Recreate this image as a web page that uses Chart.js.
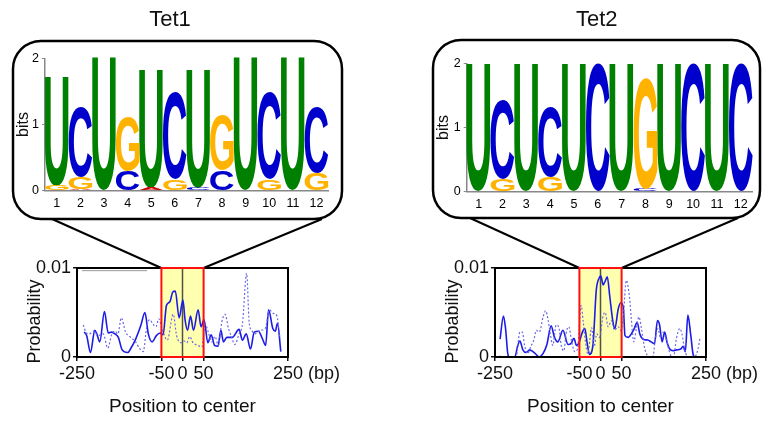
<!DOCTYPE html>
<html>
<head>
<meta charset="utf-8">
<script src="https://cdn.jsdelivr.net/npm/chart.js@4.4.1/dist/chart.umd.min.js"></script>
<style>
  html, body { margin: 0; padding: 0; background: #fff; }
  #fig { position: relative; width: 774px; height: 423px; overflow: hidden; background: #fff; }
  #fig canvas { position: absolute; }
</style>
</head>
<body>
<div id="fig">
  <canvas id="logo1" width="390" height="230" style="left:0;top:0"></canvas>
  <canvas id="logo2" width="384" height="230" style="left:390px;top:0"></canvas>
  <canvas id="prob1" width="387" height="208" style="left:0;top:215px"></canvas>
  <canvas id="prob2" width="356" height="208" style="left:418px;top:215px"></canvas>
</div>
<script>
// motif logos: information content (bits) per letter and position
const motifPositions = ['1', '2', '3', '4', '5', '6', '7', '8', '9', '10', '11', '12'];
const letterColors = { U: '#008000', C: '#0000cc', G: '#ffb300', A: '#cc0000' };

const tet1U = [1.65, 0, 2.0, 0, 1.79, 0, 1.79, 0, 2.0, 0, 2.0, 0];
const tet1C = [0, 1.05, 0, 0.30, 0, 1.31, 0.04, 0.31, 0, 1.31, 0, 0.99];
const tet1G = [0.07, 0.18, 0, 0.82, 0, 0.17, 0, 0.84, 0, 0.17, 0, 0.27];
const tet1A = [0.01, 0.025, 0, 0, 0.04, 0, 0, 0, 0, 0, 0, 0];

const tet2U = [2.0, 0, 2.0, 0, 2.0, 0, 2.0, 0, 2.0, 0, 2.0, 0];
const tet2C = [0, 1.22, 0, 1.09, 0, 2.0, 0, 0.05, 0, 2.0, 0, 2.0];
const tet2G = [0, 0.19, 0, 0.23, 0, 0, 0, 1.73, 0, 0, 0, 0];
const tet2A = [0, 0, 0, 0, 0, 0, 0, 0, 0, 0, 0, 0];

// motif occurrence probability vs position to center, [bp, probability]
const posTicks = [-250, -50, 0, 50, 250];
const posTickLabels = ['-250', '-50', '0', '50', '250'];
const probTicks = [0, 0.01];
const probTickLabels = ['0', '0.01'];
const centerWindow = [-50, 50];

const tet1Signal = [[-233,0.0028],[-227,0.0024],[-218,0.0005],[-208,0.0030],[-203,0.0026],[-196,0.0017],[-185,0.0051],
  [-176,0.0027],[-168,0.0028],[-160,0.0026],[-152,0.0022],[-143,0.0008],[-130,0.0005],[-121,0.0011],[-112,0.0019],
  [-99,0.0035],[-89,0.0050],[-81,0.0026],[-72,0.0017],[-62,0.0024],[-53,0.0027],[-46,0.0025],[-38,0.0058],[-30,0.0062],
  [-23,0.0073],[-17,0.0074],[-8,0.0044],[1,0.0064],[6,0.0042],[12,0.0030],[19,0.0046],[26,0.0030],[37,0.0053],
  [44,0.0034],[51,0.0042],[60,0.0016],[68,0.0025],[76,0.0013],[84,0.0012],[91,0.0030],[97,0.0017],[105,0.0022],
  [118,0.0022],[134,0.0031],[142,0.0019],[151,0.0026],[161,0.0009],[170,0.0028],[180,0.0029],[189,0.0021],
  [197,0.0013],[204,0.0053],[214,0.0032],[220,0.0029],[225,0.0038],[233,0.0006]];
const tet1Control = [[-235,0.0036],[-228,0.0027],[-221,0.0026],[-211,0.0029],[-200,0.0024],[-188,0.0026],[-177,0.0010],
  [-168,0.0025],[-160,0.0029],[-153,0.0026],[-145,0.0044],[-135,0.0028],[-125,0.0023],[-111,0.0017],[-101,0.0009],
  [-93,0.0006],[-85,0.0033],[-78,0.0042],[-70,0.0037],[-63,0.0034],[-56,0.0043],[-48,0.0031],[-36,0.0019],[-22,0.0048],
  [-14,0.0024],[-4,0.0016],[4,0.0018],[10,0.0016],[17,0.0023],[25,0.0016],[37,0.0013],[46,0.0011],[53,0.0038],
  [61,0.0028],[69,0.0017],[77,0.0023],[85,0.0013],[93,0.0039],[101,0.0048],[109,0.0032],[116,0.0023],[124,0.0014],
  [134,0.0026],[142,0.0037],[152,0.0094],[158,0.0039],[165,0.0029],[172,0.0026],[184,0.0030],[196,0.0032],
  [206,0.0053],[215,0.0049],[223,0.0047],[231,0.0021]];
const tet1Rule = [[-238,0.0097],[-84,0.0097]];

const tet2Signal = [[-238,0.0020],[-230,0.0046],[-225,0.0032],[-219,0.0002],[-214,0],[-203,0],[-196,0.0013],[-191,0.0018],
  [-184,0.0008],[-176,0.0005],[-168,0.0008],[-155,0.0004],[-145,0],[-136,0.0004],[-127,0.0014],[-117,0.0035],
  [-109,0.0022],[-101,0.0017],[-89,0.0030],[-77,0.0014],[-70,0.0015],[-63,0.0021],[-57,0.0013],[-50,0.0017],
  [-43,0.0028],[-37,0.0032],[-32,0.0017],[-26,0.0003],[-18,0.0013],[-10,0.0075],[-4,0.0088],[1,0.0091],[6,0.0081],
  [10,0.0084],[16,0.0090],[22,0.0068],[29,0.0041],[34,0.0032],[42,0.0054],[48,0.0061],[54,0.0056],[58,0.0024],
  [66,0.0022],[73,0.0026],[80,0.0032],[87,0.0039],[93,0.0026],[101,0.0020],[112,0.0019],[120,0.0017],[128,0.0015],
  [135,0.0041],[140,0.0036],[146,0.0017],[152,0.0028],[158,0.0016],[164,0.0009],[172,0.0007],[180,0.0008],
  [190,0.0009],[196,0.0012],[201,0.0006],[207,0.0047],[214,0.0024],[220,0.0002],[225,0],[231,0]];
const tet2Control = [[-240,0.0001],[-228,0],[-200,0],[-191,0.0028],[-185,0.0028],[-180,0.0013],[-172,0.0004],
  [-165,0.0012],[-158,0.0019],[-152,0.0030],[-145,0.0028],[-136,0.0045],[-130,0.0052],[-124,0.0041],[-119,0.0026],
  [-113,0.0013],[-105,0.0036],[-99,0.0034],[-93,0.0013],[-87,0.0007],[-81,0.0028],[-75,0.0034],[-69,0.0019],
  [-61,0.0006],[-54,0.0010],[-46,0.0058],[-41,0.0040],[-36,0.0018],[-30,0.0004],[-21,0.0033],[-15,0.0012],[-9,0.0026],
  [-2,0.0022],[6,0.0046],[11,0.0050],[18,0.0034],[26,0.0041],[33,0.0030],[42,0.0034],[48,0.0030],[54,0.0045],
  [61,0.0086],[69,0.0066],[73,0.0043],[79,0.0017],[85,0.0032],[91,0.0045],[97,0.0032],[105,0.0009],[111,0.0002],
  [117,0],[124,0],[130,0.0021],[136,0.0032],[142,0.0022],[148,0.0028],[156,0.0019],[161,0.0010],[166,0.0002],[173,0],
  [180,0.0021],[188,0.0032],[193,0.0026],[199,0.0010],[205,0.0001],[215,0],[223,0],[231,0.0009],[236,0.0022]];

Chart.defaults.font.family = '"Liberation Sans", Arial, Helvetica, sans-serif';
Chart.defaults.color = '#111';

// draws one letter stretched to fill a box
function drawGlyph(ctx, ch, color, left, top, w, h) {
  ctx.save();
  ctx.font = 'bold 100px "Liberation Sans", Arial, sans-serif';
  ctx.textAlign = 'left';
  ctx.textBaseline = 'alphabetic';
  const m = ctx.measureText(ch);
  const gw = m.actualBoundingBoxLeft + m.actualBoundingBoxRight;
  const gh = m.actualBoundingBoxAscent + m.actualBoundingBoxDescent;
  ctx.translate(left, top);
  ctx.scale(w / gw, h / gh);
  ctx.fillStyle = color;
  ctx.fillText(ch, m.actualBoundingBoxLeft, m.actualBoundingBoxAscent);
  ctx.restore();
}

const logoLetters = {
  id: 'logoLetters',
  beforeDraw(chart, args, opts) {
    const ctx = chart.ctx;
    const [x, y, w, h] = opts.frame, r = 28;
    ctx.save();
    ctx.beginPath();
    ctx.moveTo(x + r, y);
    ctx.arcTo(x + w, y, x + w, y + h, r);
    ctx.arcTo(x + w, y + h, x, y + h, r);
    ctx.arcTo(x, y + h, x, y, r);
    ctx.arcTo(x, y, x + w, y, r);
    ctx.closePath();
    ctx.lineWidth = 2.5;
    ctx.strokeStyle = '#000';
    ctx.stroke();
    ctx.restore();
  },
  afterDatasetsDraw(chart) {
    chart.data.datasets.forEach((ds, i) => {
      chart.getDatasetMeta(i).data.forEach(bar => {
        const top = Math.min(bar.y, bar.base);
        const h = Math.abs(bar.base - bar.y);
        if (h < 0.4) return;
        drawGlyph(chart.ctx, ds.label, letterColors[ds.label], bar.x - bar.width / 2, top, bar.width, h);
      });
    });
  }
};

// floating bars per letter, smallest at the bottom of each column
function logoDatasets(bits) {
  const letters = Object.keys(bits);
  const ranges = {};
  letters.forEach(l => ranges[l] = []);
  motifPositions.forEach((_, j) => {
    let base = 0;
    letters.slice().sort((a, b) => bits[a][j] - bits[b][j]).forEach(l => {
      ranges[l][j] = [base, base + bits[l][j]];
      base += bits[l][j];
    });
  });
  return letters.map(l => ({
    label: l, data: ranges[l], backgroundColor: 'rgba(0,0,0,0)', borderWidth: 0
  }));
}

function logoChart(id, title, bits, lay) {
  new Chart(document.getElementById(id), {
    type: 'bar',
    data: { labels: motifPositions, datasets: logoDatasets(bits) },
    plugins: [logoLetters],
    options: {
      responsive: false,
      animation: false,
      devicePixelRatio: 1,
      layout: { padding: { left: lay.left, right: lay.right, top: 0, bottom: lay.bottom } },
      datasets: { bar: { grouped: false, categoryPercentage: 1, barPercentage: 1 } },
      plugins: {
        legend: { display: false },
        tooltip: { enabled: false },
        title: {
          display: true, text: title,
          font: { size: 22, weight: 'normal' },
          padding: { top: 6.8, bottom: lay.titleGap }
        },
        logoLetters: { frame: lay.frame }
      },
      scales: {
        x: {
          offset: true,
          grid: { display: false, drawTicks: false, tickLength: 0 },
          border: { color: '#888', width: 1.5 },
          ticks: { font: { size: 12.5 }, color: '#000', padding: 5, maxRotation: 0, autoSkip: false },
          afterFit: s => { s.height = 20; }
        },
        y: {
          min: 0, max: 2,
          ticks: { stepSize: 1, font: { size: 12.5 }, color: '#000', padding: 3 },
          grid: { drawOnChartArea: false, tickLength: 3, color: '#888' },
          border: { color: '#888', width: 1.5 },
          title: { display: true, text: 'bits', font: { size: 16 }, padding: { top: lay.bitsPad, bottom: 0 } },
          afterFit: s => { s.width = lay.yWidth; }
        }
      }
    }
  });
}

const centerBox = {
  id: 'centerBox',
  beforeDatasetsDraw(chart, args, opts) {
    const { ctx, chartArea: a, scales: { x } } = chart;
    const x0 = x.getPixelForValue(centerWindow[0]);
    const x1 = x.getPixelForValue(centerWindow[1]);
    const xc = x.getPixelForValue(0);
    ctx.save();
    ctx.fillStyle = '#ffffb0';
    ctx.fillRect(x0, a.top, x1 - x0, a.bottom - a.top);
    ctx.strokeStyle = 'rgba(50,50,50,0.85)';
    ctx.lineWidth = 1.5;
    ctx.beginPath();
    ctx.moveTo(xc, a.top);
    ctx.lineTo(xc, a.bottom);
    ctx.stroke();
    // zoom lines up to the logo callout
    ctx.strokeStyle = '#000';
    ctx.lineWidth = 2;
    ctx.beginPath();
    ctx.moveTo(opts.from[0][0], opts.from[0][1]);
    ctx.lineTo(x0, a.top);
    ctx.moveTo(opts.from[1][0], opts.from[1][1]);
    ctx.lineTo(x1, a.top);
    ctx.stroke();
    ctx.restore();
  },
  afterDatasetsDraw(chart) {
    const { ctx, chartArea: a, scales: { x } } = chart;
    const x0 = x.getPixelForValue(centerWindow[0]);
    const x1 = x.getPixelForValue(centerWindow[1]);
    ctx.save();
    ctx.lineWidth = 2;
    ctx.strokeStyle = '#000';
    ctx.strokeRect(a.left, a.top, a.right - a.left, a.bottom - a.top);
    ctx.strokeStyle = '#ff1010';
    ctx.strokeRect(x0, a.top, x1 - x0, a.bottom - a.top);
    ctx.restore();
  },
  afterDraw(chart) {
    const { ctx, chartArea: a, scales: { x } } = chart;
    ctx.save();
    ctx.font = '18px "Liberation Sans", Arial, sans-serif';
    ctx.fillStyle = '#111';
    ctx.textBaseline = 'middle';
    ctx.textAlign = 'left';
    const last = posTickLabels[posTickLabels.length - 1];
    const px = x.getPixelForValue(posTicks[posTicks.length - 1]) + ctx.measureText(last).width / 2 + ctx.measureText(' ').width;
    ctx.fillText('(bp)', px, a.bottom + 6 + 10.8);
    // y title sits a little below the middle so it clears the 0.01 label
    ctx.translate(a.left - 42, (a.top + a.bottom) / 2 + 9);
    ctx.rotate(-Math.PI / 2);
    ctx.textAlign = 'center';
    ctx.fillText('Probability', 0, 0);
    ctx.restore();
  }
};

function probChart(id, signal, control, rule, lay) {
  const pts = arr => arr.map(p => ({ x: p[0], y: p[1] }));
  const datasets = [
    { data: pts(control), borderColor: '#6a6ae6', borderWidth: 1.2, borderDash: [2, 2] },
    { data: pts(signal), borderColor: '#1c1ce6', borderWidth: 1.6 }
  ];
  if (rule) datasets.push({ data: pts(rule), borderColor: '#999', borderWidth: 1 });
  new Chart(document.getElementById(id), {
    type: 'line',
    data: { datasets },
    plugins: [centerBox],
    options: {
      responsive: false,
      animation: false,
      devicePixelRatio: 1,
      layout: { padding: { left: 20, top: 53, right: lay.right, bottom: 0 } },
      elements: { point: { radius: 0 }, line: { cubicInterpolationMode: 'monotone', fill: false } },
      plugins: {
        legend: { display: false },
        tooltip: { enabled: false },
        centerBox: { from: lay.from }
      },
      scales: {
        x: {
          type: 'linear', min: -250, max: 250,
          afterBuildTicks: s => { s.ticks = posTicks.map(v => ({ value: v })); },
          afterFit: s => { s.height = 66; },
          ticks: {
            callback: v => posTickLabels[posTicks.indexOf(v)],
            font: { size: 18 }, color: '#111', padding: 2, maxRotation: 0, autoSkip: false
          },
          grid: { drawOnChartArea: false, tickLength: 4, color: '#111', lineWidth: 1.5 },
          border: { display: false },
          title: { display: true, text: 'Position to center', font: { size: 19 }, padding: { top: 0, bottom: 5 } }
        },
        y: {
          min: 0, max: 0.01,
          afterBuildTicks: s => { s.ticks = probTicks.map(v => ({ value: v })); },
          afterFit: s => { s.width = 57; },
          ticks: {
            callback: v => probTickLabels[probTicks.indexOf(v)],
            font: { size: 18 }, color: '#111', padding: 2
          },
          grid: { drawOnChartArea: false, tickLength: 4, color: '#111', lineWidth: 1.5 },
          border: { display: false }
        }
      }
    }
  });
}

logoChart('logo1', 'Tet1', { U: tet1U, C: tet1C, G: tet1G, A: tet1A },
  { left: 11.7, right: 61.7, bottom: 19.3, yWidth: 33.3, titleGap: 25.1, bitsPad: 2, frame: [13, 41, 329, 178] });
logoChart('logo2', 'Tet2', { U: tet2U, C: tet2C, G: tet2G, A: tet2A },
  { left: 50.7, right: 21.3, bottom: 18.3, yWidth: 26, titleGap: 30.1, bitsPad: -6.7, frame: [43, 40, 327, 178] });

probChart('prob1', tet1Signal, tet1Control, tet1Rule, { right: 99, from: [[52, 4], [322, 4]] });
probChart('prob2', tet2Signal, tet2Control, null, { right: 68, from: [[52, 3], [320, 3]] });
</script>
</body>
</html>
